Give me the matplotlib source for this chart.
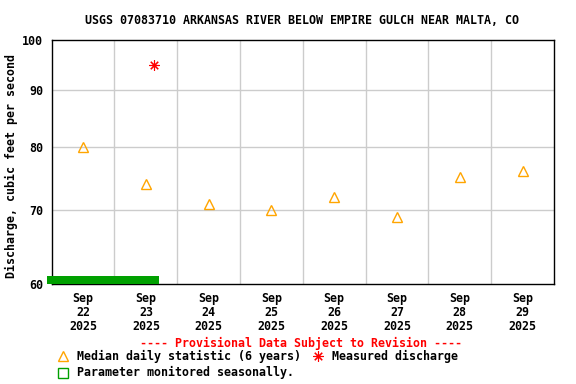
import matplotlib
matplotlib.use("Agg")
import matplotlib.pyplot as plt
import pandas as pd
from matplotlib.ticker import FixedLocator, FixedFormatter, NullLocator

# ---- data ----
title = "USGS 07083710 ARKANSAS RIVER BELOW EMPIRE GULCH NEAR MALTA, CO"
ylabel = "Discharge, cubic feet per second"
days = ["2025-09-22", "2025-09-23", "2025-09-24", "2025-09-25",
        "2025-09-26", "2025-09-27", "2025-09-28", "2025-09-29"]
median_values = [80, 74, 71, 70, 72, 69, 75, 76]
measured_times = ["2025-09-23 15:00"]
measured_values = [95]
seasonal_start = "2025-09-21 22:15"
seasonal_end = "2025-09-23 16:50"
x_start = "2025-09-22 00:00"
x_end = "2025-09-30 00:00"
y_ticks = [60, 70, 80, 90, 100]
y_tick_labels = ["60", "70", "80", "90", "100"]

FONT = "DejaVu Sans Mono"
FS = 8.4

day_dt = pd.to_datetime(days)
day_noon = day_dt + pd.Timedelta(hours=12)
x_labels = [f"{d.strftime('%b')}\n{d.day}\n{d.year}" for d in day_dt]

fig = plt.figure(figsize=(5.76, 3.84), dpi=100)
ax = fig.add_axes([51.7 / 576, 1 - 284 / 384, (554 - 51.7) / 576, (284 - 40) / 384])

ax.set_yscale("log")
ax.set_ylim(60, 100)
ax.set_xlim(pd.Timestamp(x_start), pd.Timestamp(x_end))

# grid
ax.yaxis.set_major_locator(FixedLocator(y_ticks))
ax.yaxis.set_major_formatter(FixedFormatter(y_tick_labels))
ax.yaxis.set_minor_locator(NullLocator())
for yv in y_ticks[1:-1]:
    ax.axhline(yv, color="#cccccc", lw=1.0, zorder=1)
for d in day_dt[1:]:
    ax.axvline(d, color="#cccccc", lw=1.0, zorder=1)

ax.set_xticks(day_noon)
ax.set_xticklabels(x_labels, fontfamily=FONT, fontweight="bold", fontsize=FS,
                   linespacing=1.08)
ax.xaxis.set_minor_locator(NullLocator())
ax.tick_params(axis="both", length=0)
ax.tick_params(axis="x", pad=6)
ax.tick_params(axis="y", pad=6)
for lab in ax.get_yticklabels():
    lab.set_fontfamily(FONT)
    lab.set_fontweight("bold")
    lab.set_fontsize(FS)

for s in ax.spines.values():
    s.set_linewidth(1.0)
    s.set_color("black")

# median triangles
ax.plot(day_noon, median_values, linestyle="none", marker="^", ms=7.5,
        mfc="none", mec="#FFA500", mew=1.0, zorder=3, clip_on=False)
# measured discharge
ax.plot(pd.to_datetime(measured_times), measured_values, linestyle="none",
        marker=(8, 2, 0), ms=7.5, mec="#FF0000", mew=0.8, zorder=3)
# seasonal bar
ax.axvspan(pd.Timestamp(seasonal_start), pd.Timestamp(seasonal_end),
           ymin=0, ymax=8.3 / 244, color="#00A000", zorder=4, clip_on=False,
           lw=0)

# title / labels
fig.text(302 / 576, 1 - 20 / 384, title, ha="center", va="center",
         fontfamily=FONT, fontweight="bold", fontsize=FS)
fig.text(11 / 576, 1 - 166 / 384, ylabel, rotation=90, ha="center", va="center",
         fontfamily=FONT, fontweight="bold", fontsize=FS)

# legend
fig.text(301 / 576, 1 - 343 / 384, "---- Provisional Data Subject to Revision ----",
         ha="center", va="center", color="#FF0000",
         fontfamily=FONT, fontweight="bold", fontsize=FS)
fig.lines.append(plt.Line2D([63 / 576], [1 - 356 / 384], transform=fig.transFigure,
                            marker="^", ms=7.5, mfc="none", mec="#FFA500", mew=1.0,
                            linestyle="none"))
fig.text(77 / 576, 1 - 356.5 / 384, "Median daily statistic (6 years)",
         ha="left", va="center", fontfamily=FONT, fontweight="bold", fontsize=FS)
fig.lines.append(plt.Line2D([318 / 576], [1 - 356 / 384], transform=fig.transFigure,
                            marker=(8, 2, 0), ms=7.5, mec="#FF0000", mew=0.8,
                            linestyle="none"))
fig.text(332 / 576, 1 - 356.5 / 384, "Measured discharge",
         ha="left", va="center", fontfamily=FONT, fontweight="bold", fontsize=FS)
fig.lines.append(plt.Line2D([63 / 576], [1 - 372.5 / 384], transform=fig.transFigure,
                            marker="s", ms=6.5, mfc="none", mec="#00A000", mew=1.0,
                            linestyle="none"))
fig.text(77 / 576, 1 - 372.5 / 384, "Parameter monitored seasonally.",
         ha="left", va="center", fontfamily=FONT, fontweight="bold", fontsize=FS)

fig.savefig("out.png", dpi=100)
